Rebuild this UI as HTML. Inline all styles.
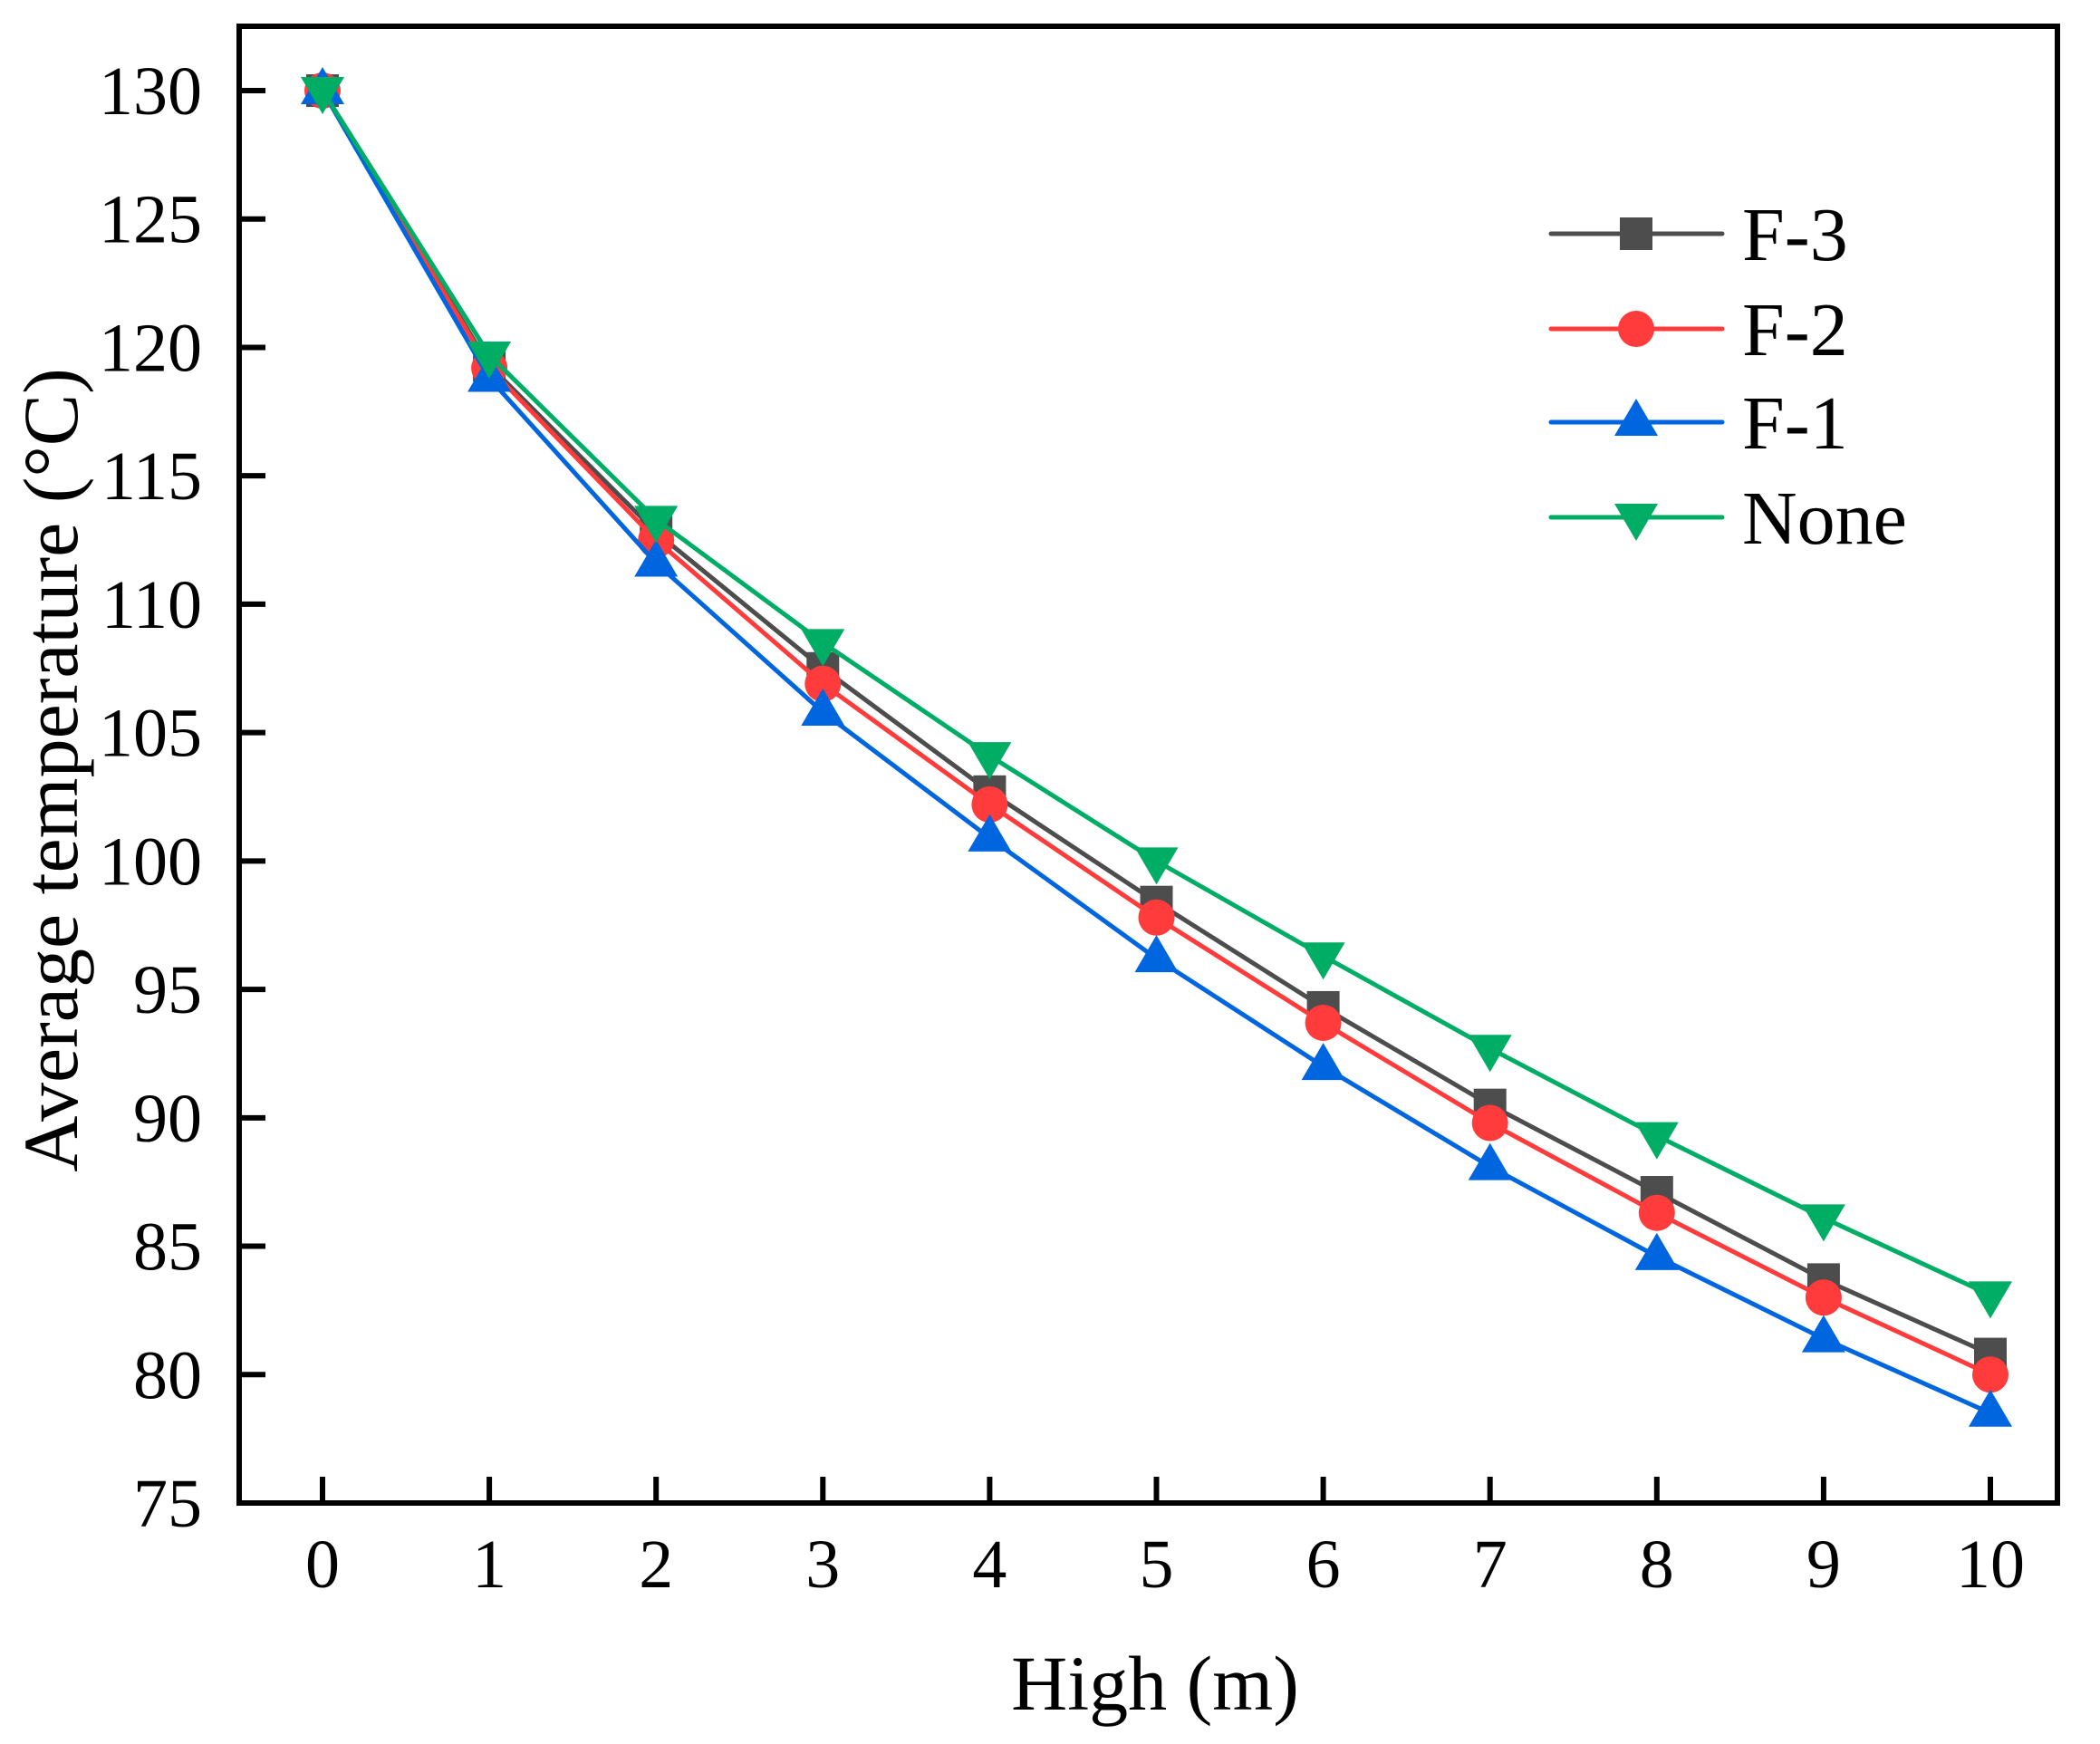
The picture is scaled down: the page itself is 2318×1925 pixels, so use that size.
<!DOCTYPE html>
<html><head><meta charset="utf-8"><style>
html,body{margin:0;padding:0;background:#fff;}
svg{display:block;font-family:"Liberation Serif",serif;}
</style></head><body>
<svg id="chart" width="2318" height="1925" viewBox="0 0 2318 1925" xmlns="http://www.w3.org/2000/svg">
<g id="series"></g>
<rect x="264" y="29" width="2007" height="1630" fill="none" stroke="#000" stroke-width="6"/>
<g id="axes"></g>
<text x="1275" y="1887" font-size="86" text-anchor="middle">High (m)</text>
<text transform="translate(85,850) rotate(-90)" font-size="86" text-anchor="middle">Average temperature (°C)</text>
<g id="legend"></g>
</svg>
<script>
const categories = [0,1,2,3,4,5,6,7,8,9,10];
const f3Values = [130,119.3,112.8,107.5,102.7,98.4,94.3,90.5,87.1,83.7,80.8];
const f2Values = [130,119.2,112.5,106.9,102.2,97.8,93.7,89.8,86.3,83.0,80.0];
const f1Values = [130,118.8,111.6,105.8,100.9,96.2,92.0,88.1,84.6,81.4,78.5];
const noneValues = [130,119.7,113.3,108.5,104.1,100.0,96.3,92.7,89.3,86.1,83.1];
const yTicks = [75,80,85,90,95,100,105,110,115,120,125,130];
const xTicks = [0,1,2,3,4,5,6,7,8,9,10];
const seriesNames = ['F-3','F-2','F-1','None'];

const NS='http://www.w3.org/2000/svg';
function xs(v){return 356+v*184.1;}
function ys(v){return 1659-(v-75)*(1559/55);}
function mk(tag,attrs,parent){const e=document.createElementNS(NS,tag);for(const k in attrs)e.setAttribute(k,attrs[k]);parent.appendChild(e);return e;}
const axes=document.getElementById('axes');
xTicks.forEach(t=>{
  const l=mk('line',{x1:xs(t),x2:xs(t),y1:1659,y2:1630,stroke:'#000','stroke-width':6},axes);
  
  
  const tx=mk('text',{x:xs(t),y:1752,'font-size':76,'text-anchor':'middle'},axes);
  
  
  tx.textContent=t;
});
yTicks.forEach(t=>{
  const l=mk('line',{x1:264,x2:293,y1:ys(t),y2:ys(t),stroke:'#000','stroke-width':6},axes);
  
  
  const tx=mk('text',{x:223,y:ys(t)+26,'font-size':76,'text-anchor':'end'},axes);
  
  
  tx.textContent=t;
});
const colors=['#4d4d4d','#ff3b3b','#0066e0','#00ad65'];
const shapes=['square','circle','up','down'];
const data=[f3Values,f2Values,f1Values,noneValues];
function marker(shape,x,y,c,parent){
  let e;
  if(shape==='square') e=mk('rect',{x:x-18,y:y-18,width:36,height:36,fill:c},parent);
  else if(shape==='circle') e=mk('circle',{cx:x,cy:y,r:20,fill:c},parent);
  else if(shape==='up') e=mk('polygon',{points:`${x},${y-26} ${x-24},${y+15} ${x+24},${y+15}`,fill:c},parent);
  else e=mk('polygon',{points:`${x},${y+26} ${x-24},${y-15} ${x+24},${y-15}`,fill:c},parent);
  return e;
}
const sg=document.getElementById('series');
data.forEach((vals,i)=>{
  const g=mk('g',{},sg);
  
  
  const pl=mk('polyline',{points:vals.map((v,j)=>xs(categories[j])+','+ys(v)).join(' '),fill:'none',stroke:colors[i],'stroke-width':5,'stroke-linejoin':'round'},g);
  
  
  vals.forEach((v,j)=>{
    const m=marker(shapes[i],xs(categories[j]),ys(v),colors[i],g);
    
    
  });
});
const lg=document.getElementById('legend');
const rows=[258,363,466,571];
seriesNames.forEach((n,i)=>{
  const g=mk('g',{},lg);
  
  
  mk('line',{x1:1712,x2:1901,y1:rows[i],y2:rows[i],stroke:colors[i],'stroke-width':5,'stroke-linecap':'round'},g);
  marker(shapes[i],1806,rows[i],colors[i],g);
  const t=mk('text',{x:1923,y:rows[i]+29,'font-size':84},g);
  t.textContent=n;
});
</script>
</body></html>
